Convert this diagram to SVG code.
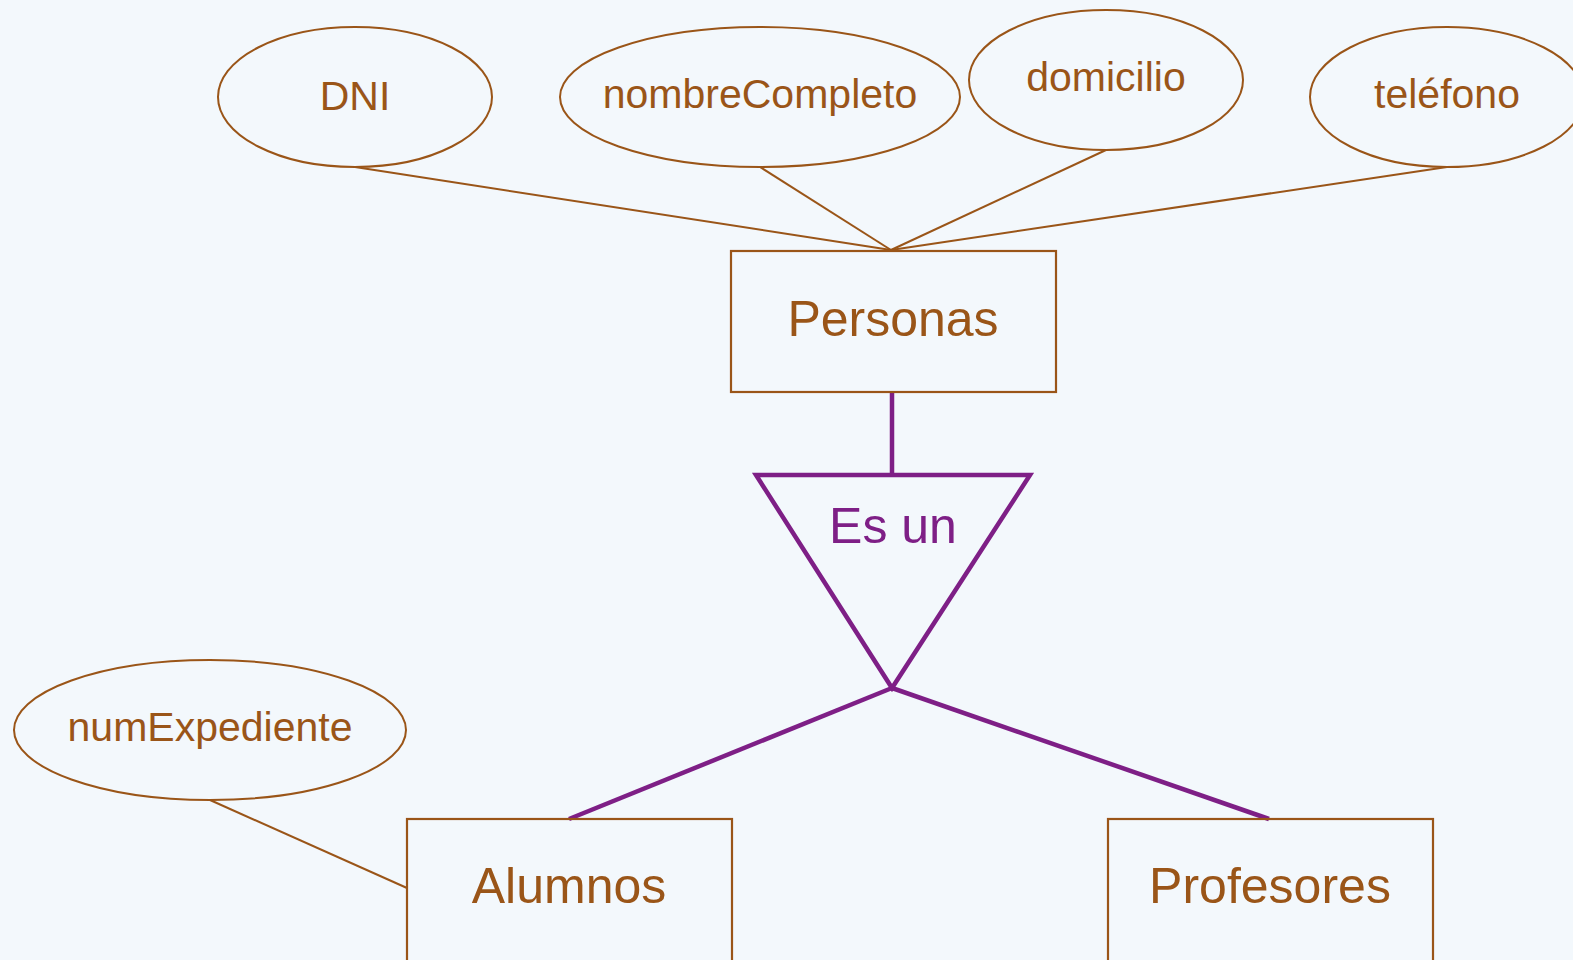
<svg xmlns="http://www.w3.org/2000/svg" width="1573" height="960" viewBox="0 0 1573 960">
<style>
.attr{fill:none;stroke:#9A5518;stroke-width:2}
.ent{fill:none;stroke:#9A5518;stroke-width:2.2}
.ln{stroke:#9A5518;stroke-width:2;fill:none}
.isa{stroke:#7E1F86;stroke-width:4.5;fill:none}
.t{font-family:"Liberation Sans",Arial,sans-serif;fill:#9A5518;text-anchor:middle}
.ta{font-size:41px}
.te{font-size:50px}
.tp{fill:#7E1F86;font-size:50px}
</style>
<rect width="1573" height="960" fill="#F3F8FC"/>
<g id="connectors">
<line class="ln" x1="355" y1="167" x2="891" y2="250"/>
<line class="ln" x1="760" y1="167" x2="891" y2="250"/>
<line class="ln" x1="1106" y1="150" x2="891" y2="250"/>
<line class="ln" x1="1447" y1="167" x2="891" y2="250"/>
<line class="ln" x1="210" y1="800" x2="407" y2="888"/>
<line class="isa" x1="892" y1="392" x2="892" y2="475"/>
<line class="isa" x1="892" y1="688" x2="569" y2="819"/>
<line class="isa" x1="892" y1="688" x2="1269" y2="819"/>
</g>
<g id="DNI"><ellipse class="attr" cx="355" cy="97" rx="137" ry="70"/><text class="t ta" x="355" y="110">DNI</text></g>
<g id="nombreCompleto"><ellipse class="attr" cx="760" cy="97" rx="200" ry="70"/><text class="t ta" x="760" y="108">nombreCompleto</text></g>
<g id="domicilio"><ellipse class="attr" cx="1106" cy="80" rx="137" ry="70"/><text class="t ta" x="1106" y="91">domicilio</text></g>
<g id="telefono"><ellipse class="attr" cx="1447" cy="97" rx="137" ry="70"/><text class="t ta" x="1447" y="108">teléfono</text></g>
<g id="numExpediente"><ellipse class="attr" cx="210" cy="730" rx="196" ry="70"/><text class="t ta" x="210" y="741">numExpediente</text></g>
<g id="Personas"><rect class="ent" x="731" y="251" width="325" height="141"/><text class="t te" x="893" y="336">Personas</text></g>
<g id="EsUn"><polygon class="isa" points="756,475 1030,475 892,688"/><text class="t tp" x="893" y="543">Es un</text></g>
<g id="Alumnos"><rect class="ent" x="407" y="819" width="325" height="160"/><text class="t te" x="569" y="903">Alumnos</text></g>
<g id="Profesores"><rect class="ent" x="1108" y="819" width="325" height="160"/><text class="t te" x="1270" y="903">Profesores</text></g>
</svg>
